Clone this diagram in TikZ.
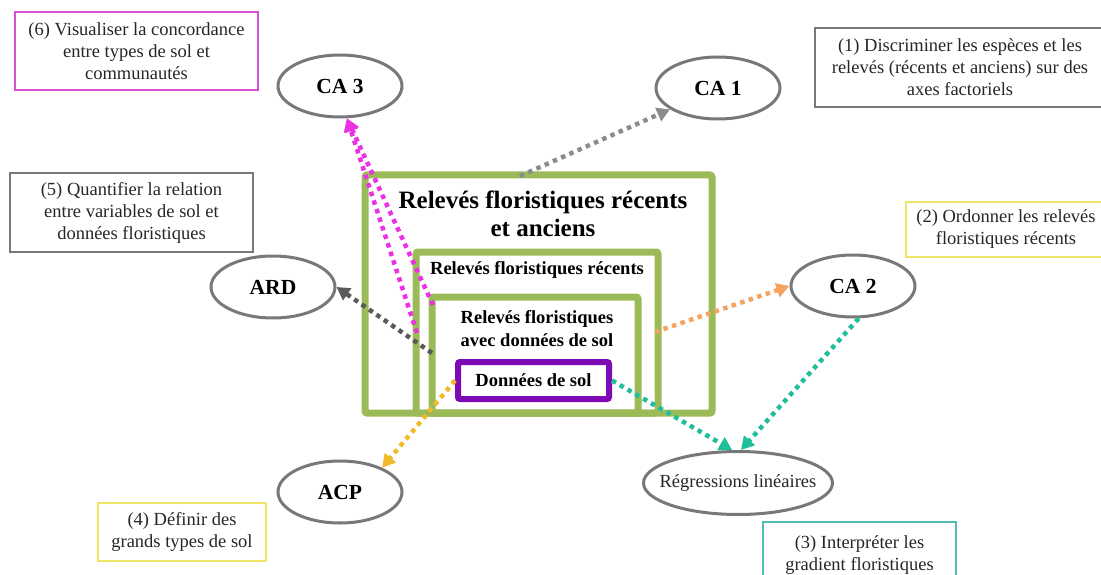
\documentclass[tikz,border=0pt]{standalone}
\usepackage{fontspec}
\setmainfont{Liberation Serif}
\usetikzlibrary{shapes,arrows.meta,scopes}

\definecolor{leafgreen}{RGB}{155,187,89}
\definecolor{soilpurple}{RGB}{125,10,180}
\definecolor{pinkline}{RGB}{236,48,228}
\definecolor{pinkbox}{RGB}{214,80,214}
\definecolor{goldline}{RGB}{242,186,40}
\definecolor{yellowbox}{RGB}{240,228,100}
\definecolor{tealline}{RGB}{32,190,155}
\definecolor{tealbox}{RGB}{80,190,180}
\definecolor{orangeline}{RGB}{244,164,96}
\definecolor{greyline}{RGB}{140,140,140}
\definecolor{darkline}{RGB}{90,90,90}
\definecolor{greybox}{RGB}{120,120,120}

\begin{document}
\begin{tikzpicture}[x=1pt,y=-1pt,
    txt/.style={font=\fontsize{18.5}{22}\selectfont,text=black!85,align=center},
    goalbox/.style={draw,line width=1.5pt,txt,inner sep=0pt},
    method/.style={ellipse,draw=greybox,line width=3pt,inner sep=0pt,
        minimum width=124,minimum height=62,font=\fontsize{21.5}{24}\selectfont\bfseries},
    plot/.style={draw=leafgreen,line width=7pt,rounded corners=2pt},
    link/.style={line width=4.5pt,dash pattern=on 4.5pt off 4.5pt,
        -{Triangle[length=13pt,width=14pt]}}]
    \useasboundingbox (0,0) rectangle (1101,575);

    % nested data sets
    \node[plot,minimum width=347,minimum height=238] (outer) at (538.5,294) {};
    \node[plot,minimum width=242,minimum height=161] (middle) at (537,332.5) {};
    \node[plot,minimum width=206,minimum height=116] (inner) at (535,355) {};
    \node[draw=soilpurple,line width=6pt,rounded corners=2pt,minimum width=151,minimum height=37,
        font=\fontsize{18.5}{20}\selectfont\bfseries] (soil) at (533.5,380.5) {Données de sol};
    \node[font=\fontsize{25}{28}\selectfont\bfseries,align=center] (outertitle) at (543,214)
        {Relevés floristiques récents\\et anciens};
    \node[font=\fontsize{18.5}{20}\selectfont\bfseries] (middletitle) at (537,270)
        {Relevés floristiques récents};
    \node[font=\fontsize{18.5}{23}\selectfont\bfseries,align=center] (innertitle) at (537,328.5)
        {Relevés floristiques\\avec données de sol};

    % analyses
    \node[method] (ca3) at (340,86) {CA 3};
    \node[method] (ca1) at (718,88) {CA 1};
    \node[method] (ard) at (273,287) {ARD};
    \node[method] (ca2) at (853,286) {CA 2};
    \node[method] (acp) at (340,492) {ACP};
    \node[method,minimum width=189,minimum height=63,inner xsep=-14pt,
        font=\fontsize{18.5}{20}\selectfont,text=black!85] (reg) at (738,483) {Régressions linéaires};

    % objectives
    \node[goalbox,draw=pinkbox,minimum width=243,minimum height=78] (goal6) at (136.5,51)
        {(6) Visualiser la concordance\\entre types de sol et\\communautés};
    \node[goalbox,draw=greybox,minimum width=290,minimum height=79] (goal1) at (960,67.5)
        {(1) Discriminer les espèces et les\\relevés (récents et anciens) sur des\\axes factoriels};
    \node[goalbox,draw=greybox,minimum width=243,minimum height=79] (goal5) at (131.5,212.5)
        {(5) Quantifier la relation\\entre variables de sol et\\données floristiques};
    \node[goalbox,draw=yellowbox,minimum width=200,minimum height=55] (goal2) at (1006,229.5)
        {(2) Ordonner les relevés\\floristiques récents};
    \node[goalbox,draw=yellowbox,minimum width=168,minimum height=58] (goal4) at (182,532)
        {(4) Définir des\\grands types de sol};
    \node[goalbox,draw=tealbox,minimum width=193,minimum height=66] (goal3) at (859.5,555)
        {(3) Interpréter les\\gradient floristiques};

    % links
    \coordinate (c1) at (520,176);
    \coordinate (m1) at (417,333);
    \coordinate (m2) at (433,305);
    \coordinate (a1) at (432,353);
    \coordinate (o1) at (655,332);
    \draw[link,greyline] (c1) -- (ca1);
    \draw[link,pinkline] (m1) -- (ca3.-78);
    \draw[link,pinkline] (m2) -- (ca3.-78);
    \draw[link,darkline] (a1) -- (ard.east);
    \draw[link,orangeline] (o1) -- (ca2.west);
    \draw[link,goldline] (soil.west) -- (acp.30);
    \draw[link,tealline] (soil.east) -- (reg.100);
    \draw[link,tealline] (ca2.-80) -- (reg.85);
\end{tikzpicture}
\end{document}
